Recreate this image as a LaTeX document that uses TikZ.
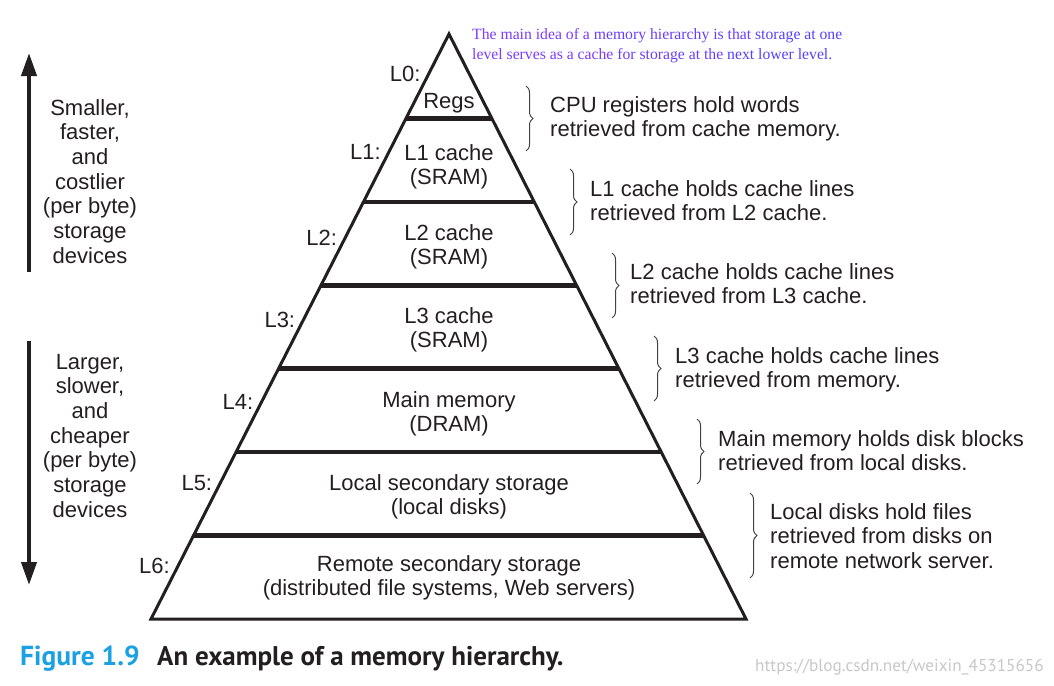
\documentclass[tikz,border=0pt]{standalone}
\usepackage{fontspec}
\setmainfont{Liberation Sans}
\newfontfamily\noteserif{Liberation Serif}
\newfontfamily\capfont{PT Sans}
\usetikzlibrary{calc,decorations.pathreplacing,arrows.meta}
\definecolor{ink}{HTML}{231F20}
\definecolor{figblue}{HTML}{1BA1E2}
\definecolor{wm}{HTML}{C8C8C8}
\definecolor{nA}{RGB}{125,60,255}
\definecolor{nB}{RGB}{105,62,255}
\definecolor{nC}{RGB}{85,65,255}
\begin{document}
\begin{tikzpicture}[x=1pt,y=-1pt,
  lbl/.style={font=\fontsize{22}{24.7}\selectfont, inner sep=0pt, text=ink, align=center},
  lvl/.style={lbl, anchor=base east},
  inlvl/.style={lbl, anchor=base},
  note/.style={lbl, align=left, anchor=base west},
  brc/.style={draw=ink!85, line width=1pt, decorate, decoration={brace, amplitude=7pt}},
  side/.style={draw=ink, line width=3pt, line join=miter},
  shelf/.style={draw=ink, line width=4.5pt},
  bigarrow/.style={draw=ink, line width=4pt, -{Triangle[length=23pt,width=15pt]}}]
\useasboundingbox (0,0) rectangle (1054,685);
\fill[white] (0,0) rectangle (1054,685);

% pyramid
\coordinate (A) at (449,34);
\coordinate (BL) at (151,619);
\coordinate (BR) at (746,619);
\draw[side] (A) -- (BL) -- (BR) -- cycle;
\foreach \t in {0.14444,0.28701,0.42957,0.57214,0.71487,0.85744}
  \draw[shelf] ($(A)!\t!(BL)$) -- ($(A)!\t!(BR)$);

% level labels
\node[lvl] (l0) at (420.6,81.5) {L0:};
\node[lvl] (l1) at (380.9,159.5) {L1:};
\node[lvl] (l2) at (337.1,245.5) {L2:};
\node[lvl] (l3) at (295.3,327.5) {L3:};
\node[lvl] (l4) at (253.5,409.5) {L4:};
\node[lvl] (l5) at (212.3,490.5) {L5:};
\node[lvl] (l6) at (170.0,573.5) {L6:};

% level contents (anchor base = baseline of last line)
\node[inlvl] (t0) at (449,108) {Regs};
\node[inlvl] (t1) at (449,184.7) {L1 cache\\(SRAM)};
\node[inlvl] (t2) at (449,264.7) {L2 cache\\(SRAM)};
\node[inlvl] (t3) at (449,347.7) {L3 cache\\(SRAM)};
\node[inlvl] (t4) at (449,431.7) {Main memory\\(DRAM)};
\node[inlvl] (t5) at (449,514.7) {Local secondary storage\\(local disks)};
\node[inlvl] (t6) at (449,595.7) {Remote secondary storage\\(distributed file systems, Web servers)};

% braces and notes
\draw[brc] (526,86) -- (526,151);
\node[note] (n0) at (550,136.7) {CPU registers hold words\\retrieved from cache memory.};
\draw[brc] (570,169) -- (570,235);
\node[note] (n1) at (590,220.7) {L1 cache holds cache lines\\retrieved from L2 cache.};
\draw[brc] (612,253) -- (612,318);
\node[note] (n2) at (630,303.7) {L2 cache holds cache lines\\retrieved from L3 cache.};
\draw[brc] (654,336) -- (654,401);
\node[note] (n3) at (675,387.7) {L3 cache holds cache lines\\retrieved from memory.};
\draw[brc] (697,419) -- (697,484);
\node[note] (n4) at (718,470.7) {Main memory holds disk blocks\\retrieved from local disks.};
\draw[brc] (750,493) -- (750,578);
\node[note] (n5) at (770,568.4) {Local disks hold files\\retrieved from disks on\\remote network server.};

% left arrows and texts
\coordinate (upS) at (29,272);
\coordinate (upE) at (29,53);
\draw[bigarrow] (upS) -- (upE);
\coordinate (dnS) at (29,341);
\coordinate (dnE) at (29,585);
\draw[bigarrow] (dnS) -- (dnE);
\node[inlvl] (small) at (90,263.2) {Smaller,\\faster,\\and\\costlier\\(per byte)\\storage\\devices};
\node[inlvl] (large) at (90,517.2) {Larger,\\slower,\\and\\cheaper\\(per byte)\\storage\\devices};

% top note
\node[anchor=base west, inner sep=0pt, align=left, font=\noteserif\fontsize{15.7}{20}\selectfont] (idea) at (472,59.5)
  {\textcolor{nA}{The main idea of a} \textcolor{nB}{memory hierarchy is that} \textcolor{nC}{storage at one}\\
   \textcolor{nA}{level serves as a cache} \textcolor{nB}{for storage at the} \textcolor{nC}{next lower level.}};

% caption
\node[anchor=base west, inner sep=0pt, font=\capfont\bfseries\fontsize{27.5}{30}\selectfont, text=figblue] (fig) at (20,665) {Figure 1.9};
\node[anchor=base west, inner sep=0pt, font=\capfont\bfseries\fontsize{27}{30}\selectfont, text=ink] (title) at (157,665) {An example of a memory hierarchy.};
\node[anchor=base west, inner sep=0pt, font=\capfont\fontsize{17.2}{20}\selectfont, text=wm] (mark) at (755,671) {https://blog.csdn.net/weixin\_45315656};
\end{tikzpicture}
\end{document}
